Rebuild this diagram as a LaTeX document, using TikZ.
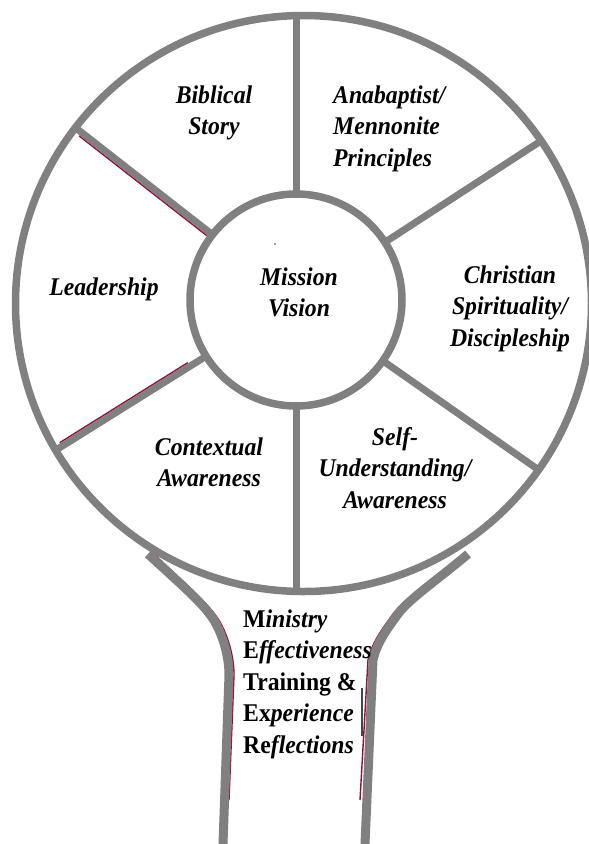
\documentclass[tikz,border=0pt]{standalone}
\usepackage{fontspec}
\setmainfont{Liberation Serif}[FakeStretch=0.93]
\usetikzlibrary{calc}
\definecolor{ringgray}{RGB}{128,128,128}
\definecolor{stemred}{RGB}{150,10,60}
\definecolor{tickgray}{RGB}{70,70,70}
\newcommand{\labelstack}[2]{\begin{tabular}[t]{@{}#1@{}}#2\end{tabular}}
\begin{document}
\begin{tikzpicture}[x=1pt,y=-1pt,
  rim/.style={circle, draw=ringgray, line width=7.5pt, outer sep=0pt, inner sep=0pt},
  spoke/.style={draw=ringgray, line width=7pt},
  stem/.style={draw=ringgray, line width=9pt, line join=round},
  shade/.style={draw=stemred, line width=1.4pt},
  lbl/.style={font=\bfseries\itshape\fontsize{25.5}{31.5}\selectfont, inner sep=0pt, anchor=base},
]
\fill[white] (0,0) rectangle (589,844);
\useasboundingbox (0,0) rectangle (589,844);

% wheel and hub
\node[rim, minimum size=576pt] (wheel) at (303.5,303.5) {};
\node[rim, minimum size=212pt] (hub) at (296,300) {};

% thin red shadows along two spokes
\draw[shade] ($(hub.center)+(142:110pt)+(232:4.2pt)$) -- ($(hub.center)+(142:272pt)+(232:4.2pt)$);
\draw[shade] ($(hub.center)+(212:125pt)+(122:4.2pt)$) -- ($(hub.center)+(212:276pt)+(122:4.2pt)$);

% radial spokes: angle / length to the rim
\foreach \a/\r in {90/284.5, 33/292.4, 325/296.2, 270/291.5, 212/283.5, 142/279.9}
  \draw[spoke] (hub.\a) -- ($(hub.center)+(\a:\r pt)$);

% handle, with its red shadow strokes
\coordinate (lt) at (148,554);
\coordinate (rt) at (468,554);
\coordinate (lb) at (223,844);
\coordinate (rb) at (365,844);
\draw[shade] (156,556) .. controls (190,588) and (210,605) .. (220,622)
  .. controls (230,640) and (234,660) .. (234,675) -- (229,800);
\draw[shade] (462,556) .. controls (435,578) and (405,598) .. (393,614)
  .. controls (383,628) and (372,642) .. (368,660) -- (360,800);
\draw[stem] (lt) .. controls (185,588) and (205,605) .. (215,622)
  .. controls (225,640) and (229,660) .. (229,675) -- (lb);
\draw[stem] (rt) .. controls (440,578) and (410,598) .. (398,614)
  .. controls (388,628) and (377,642) .. (373,660) -- (rb);
\coordinate (tk1) at (362,688);
\coordinate (tk2) at (362,736);
\draw[tickgray, line width=1.2pt] (tk1) -- (tk2);
\fill[ringgray] (275,244) circle[radius=1.1pt];

% labels
\node[lbl] (biblical) at (214,103) {\labelstack{c}{Biblical\\Story}};
\node[lbl, anchor=base west] (anabaptist) at (333,103) {\labelstack{l}{Anabaptist/\\Mennonite\\Principles}};
\node[lbl] (leadership) at (104,295) {Leadership};
\node[lbl] (mission) at (299,285) {\labelstack{c}{Mission\\Vision}};
\node[lbl] (christian) at (510,283) {\labelstack{c}{Christian\\Spirituality/\\Discipleship}};
\node[lbl] (contextual) at (209,455) {\labelstack{c}{Contextual\\Awareness}};
\node[lbl] (self) at (395,445) {\labelstack{c}{Self-\\Understanding/\\Awareness}};
\node[lbl, anchor=base west] (ministry) at (243,627)
  {\labelstack{l}{{\upshape M}inistry\\{\upshape E}ffectiveness\\{\upshape Training \&}\\{\upshape Ex}perience\\{\upshape Re}flections}};
\end{tikzpicture}
\end{document}
